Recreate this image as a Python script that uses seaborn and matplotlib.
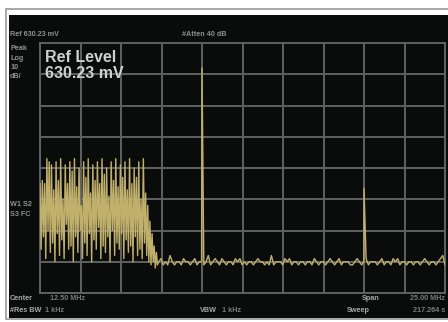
import numpy as np
import pandas as pd
import matplotlib
matplotlib.use("Agg")
import matplotlib.pyplot as plt
from matplotlib.patches import Rectangle
import seaborn as sns

# ---- data ----
# frequency axis: Center 12.50 MHz, Span 25.00 MHz -> 0..25 MHz ; y: dB below ref level, 10 dB/div
block_levels = [
    -45, -66, -44, -62, -45, -69, -37, -60, -38, -67, -39, -64, -47, -70, -38, -61,
    -44, -68, -37, -63, -50, -69, -39, -58, -45, -66, -38, -65, -41, -70, -37, -62,
    -46, -67, -40, -60, -52, -69, -38, -64, -43, -68, -37, -61, -48, -70, -39, -63,
    -44, -66, -38, -59, -45, -69, -37, -65, -42, -67, -40, -62, -49, -70, -38, -60,
    -44, -68, -37, -64, -46, -66, -39, -61, -43, -69, -38, -63, -47, -67, -37, -65,
    -45, -70, -40, -62, -43, -68, -38, -66, -50, -69, -37, -64,
]
decay_levels = [-48, -68, -52, -70, -57, -71, -61, -70, -65, -72, -67, -71]
floor_levels = [
    -70, -69, -71, -70, -71, -68, -70, -71, -70, -70, -71, -69, -70, -70, -71, -70,
    -69, -71, -70, -70, -71, -70, -68, -71, -70, -69, -70, -71, -69, -70, -71, -70,
    -70, -71, -69, -70, -69, -71, -70, -71, -70, -70, -71, -70, -69, -70, -70, -71,
    -70, -71, -68, -71, -70, -70, -70, -71, -69, -70, -69, -71, -70, -70, -71, -70,
    -70, -71, -70, -70, -71, -69, -70, -71, -70, -70, -71, -70, -69, -70, -71, -70,
    -69, -71, -70, -70, -70, -71, -71, -70, -69, -70, -71, -70, -69, -71, -70, -70,
    -70, -71, -70, -69, -71, -70, -70, -71, -69, -70, -69, -71, -70, -70, -71, -70,
    -70, -71, -70, -70, -71, -70, -69, -70, -71, -70, -70, -71, -70, -69, -68, -71,
]
peak_freqs = [10.0, 20.0]
peak_levels = [-8.0, -46.5]

x_ticks = np.linspace(0, 25, 11)
y_ticks = np.linspace(-80, 0, 9)

# ---- assemble trace ----
f_block = np.linspace(0.0, 6.45, len(block_levels))
f_decay = np.linspace(6.52, 7.25, len(decay_levels))
f_floor = np.linspace(7.33, 25.0, len(floor_levels))
freqs = np.concatenate([f_block, f_decay, f_floor, peak_freqs])
levels = np.concatenate([block_levels, decay_levels, floor_levels, peak_levels]).astype(float)
df = pd.DataFrame({"freq": freqs, "level": levels}).sort_values("freq")

# ---- figure ----
W, H = 448, 322
fig = plt.figure(figsize=(W / 100, H / 100), dpi=100, facecolor="white")

def fx(px):
    return px / W

def fy(py):
    return 1 - py / H

# instrument screen (background axes)
bg = fig.add_axes([0, 0, 1, 1], zorder=-5)
bg.set_xlim(0, W)
bg.set_ylim(H, 0)
bg.axis("off")
bg.add_patch(Rectangle((5.5, 8.5), 460, 310.5, facecolor="white",
                       edgecolor="#9a9a9a", linewidth=1.2))
bg.add_patch(Rectangle((9, 15), 445, 303, facecolor="#0a0c0c", edgecolor="none"))

ax = fig.add_axes([fx(40), fy(293), fx(405), fy(43) - fy(293)], zorder=1)
ax.set_facecolor("#0a0c0c")
sns.lineplot(data=df, x="freq", y="level", ax=ax, estimator=None, sort=True,
             color="#c1b06c", linewidth=1.0, zorder=3)
ax.set_xlim(0, 25)
ax.set_ylim(-80, 0)
ax.set_xticks(x_ticks)
ax.set_yticks(y_ticks)
ax.grid(True, color="#606261", linewidth=1.4, zorder=1)
ax.set_axisbelow(True)
ax.tick_params(length=0, labelbottom=False, labelleft=False)
ax.set_xlabel("")
ax.set_ylabel("")
for s in ax.spines.values():
    s.set_color("#606261")
    s.set_linewidth(1.4)

# ---- texts ----
small = dict(fontsize=5.2, family="Liberation Sans", fontweight="bold")
def t(px, py, s, color="#8e8e8e", ha="left", **kw):
    d = dict(small)
    d.update(kw)
    fig.text(fx(px), fy(py), s, color=color, ha=ha, va="center", zorder=10, **d)

t(10, 34, "Ref 630.23 mV")
t(182, 35, "#Atten 40 dB")
t(10, 49, "Peak")
t(10, 59, "Log")
t(10, 68, "10")
t(10, 77, "dB/")
t(10, 205, "W1 S2")
t(10, 215, "S3 FC")
t(10, 298, "Center", color="#a8a8a8")
t(50, 298, "12.50 MHz", color="#7a7a7a")
t(10, 311, "#Res BW", color="#a8a8a8")
t(45, 311, "1 kHz", color="#7a7a7a")
t(200, 311, "VBW", color="#a8a8a8")
t(222, 311, "1 kHz", color="#7a7a7a")
t(362, 298, "Span", color="#a8a8a8")
t(445, 298, "25.00 MHz", color="#7a7a7a", ha="right")
t(347, 311, "Sweep", color="#a8a8a8")
t(445, 311, "217.264 s", color="#7a7a7a", ha="right")

big = dict(fontsize=11.5, family="Liberation Sans", fontweight="bold", color="#d0d0d0")
ax.text(0.012, 1 - (57 - 43) / 250, "Ref Level", transform=ax.transAxes,
        ha="left", va="center", zorder=6, **big)
ax.text(0.012, 1 - (73 - 43) / 250, "630.23 mV", transform=ax.transAxes,
        ha="left", va="center", zorder=6, **big)

fig.savefig("out.png", dpi=100, facecolor="white")
